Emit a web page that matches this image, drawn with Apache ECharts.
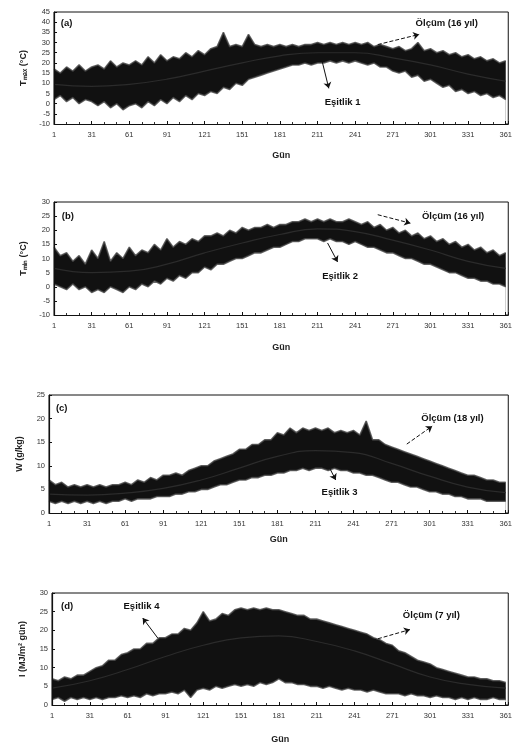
<!DOCTYPE html>
<html>
<head>
<meta charset="utf-8">
<script src="https://cdn.jsdelivr.net/npm/echarts@6/dist/echarts.min.js"></script>
<style>
  html, body { margin: 0; padding: 0; background: #fff; }
  #chart { width: 515px; height: 747px; }
</style>
</head>
<body>
<div id="chart"></div>
<script>
// okuma gunleri (5 gunde bir) ve esitlik egrisi gunleri
const gunler = [1,6,11,16,21,26,31,36,41,46,51,56,61,66,71,76,81,86,91,96,101,106,111,116,121,126,131,136,141,146,151,156,161,166,171,176,181,186,191,196,201,206,211,216,221,226,231,236,241,246,251,256,261,266,271,276,281,286,291,296,301,306,311,316,321,326,331,336,341,346,351,356,361];
const esitGunler = [1,31,61,91,121,151,181,211,241,271,301,331,361];

// (a) Tmax olcum bandi ust/alt siniri ve esitlik 1
const tmaxUst = [17,15,18,16,19,16,18, 19,17,21,18,20,19, 21,19,23,20,24,21, 23,22,25,23,26,24, 27,28,35,28,29,28, 34,29,28,29,28,29, 28,29,28,29,29,30, 29,30,29,30,29,30, 29,30,28,29,28,27, 28,26,27,30,26,27, 25,26,24,25,23,24, 22,23,21,22,20,21];
const tmaxAlt = [2,4,1,3,0,2,1, -1,1,-2,0,-3,-1, 0,-2,1,-1,2,0, 3,1,4,2,5,4, 6,5,8,7,10,9, 12,13,14,15,16,17, 18,19,19,20,19,20, 20,21,20,21,20,21, 20,19,20,18,18,16, 15,16,13,14,11,12, 10,8,9,6,7,5, 6,4,5,3,4,2];
const esitlik1 = [9.5,8.5,9.5,12,16,20,23.5,25,25,22.5,19,14.5,11];

// (b) Tmin
const tminUst = [14,11,12,9,11,8,13, 10,16,9,12,10,14, 11,13,12,15,13,17, 14,16,15,17,16,18, 18,19,18,20,19,21, 20,21,21,22,21,22, 22,23,23,24,23,24, 23,24,23,23,24,23, 22,23,21,22,20,21, 19,20,18,19,17,18, 16,17,15,16,14,15, 13,14,12,13,11,12];
const tminAlt = [1,0,-1,1,-1,0,-2, -1,-2,0,-1,-2,0, -1,1,0,2,1,3, 2,4,3,5,5,7, 6,8,8,9,10,10, 11,12,12,13,14,14, 15,16,16,17,17,17, 16,17,16,16,15,16, 15,14,14,13,12,12, 11,10,10,9,8,8, 7,6,5,5,4,3, 3,2,2,1,1,0];
const esitlik2 = [6.5,5,5.5,8,12,15.5,18.5,20.5,19.5,16.5,13,9,6.5];

// (c) W (g/kg)
const wUst = [7,6,6.5,5.5,6,5.5,6, 5.5,6,5.5,6,6,6.5, 6,7,6.5,7.5,7,8, 8,8.5,8,9,9.5,10, 10,11,11.5,12,12.5,13.5, 13.5,14.5,14.5,15.5,15.5,17, 16.5,18,17,18,17.5,18, 17.5,18,17,17.5,17,17.5, 16.5,19.5,15.5,15.5,14.5,14, 13.5,13,12.5,12,11.5,11, 10.5,10,9.5,9,8.5,8, 8,7.5,7,7,6.5,6.5];
const wAlt = [2.5,2,2.5,2,2.5,2,2.5, 2,2.5,2,2.5,2.5,3, 2.5,3,3,3,3.5,3.5, 3.5,4,4,4.5,4.5,5, 5,5.5,6,6,6.5,7, 7,7.5,7.5,8,8,8.5, 8.5,9,9,9.5,9,9.5, 9.5,9,9.5,9,9,8.5, 8.5,8,8,7.5,7,6.5, 6.5,6,5.5,5.5,5,4.5, 4.5,4,4,3.5,3.5,3, 3,3,2.5,2.5,2.5,2.5];
const esitlik3 = [4,3.8,4.2,5.2,7,9.5,12,13.2,12.8,10.5,7.8,5.5,4.3];

// (d) I (MJ/m2 gun)
const iUst = [7,6.5,7.5,7,8,8,9, 10,10.5,12,12,13.5,14, 15,15,16.5,16.5,18,18, 19,19,20.5,20,22,25, 22.5,23,24.5,24,25.5,26, 25.5,26,25.5,26,25.5,25.5, 25,24.5,24,24,23,23, 22.5,22,21.5,21,20.5,20, 19.5,19,18,17.5,16.5,16, 14.5,14,13,12,11.5,11, 10,9.5,9,8.5,8,7.5, 7.5,7,7,6.5,6.5,6];
const iAlt = [1.5,2,1,2,1.5,2,1.5, 2,1.5,2,2,2.5,2, 2.5,2,3,2.5,3,3, 3.5,3,4,2,4,4.5, 4,5,4.5,5,5.5,5, 5.5,5,6,5.5,6,7, 6,6,5.5,5.5,5,5, 4.5,5,4.5,4,4.5,4, 4,3.5,4,3.5,3,3, 3,2.5,3,2.5,2.5,2, 2.5,2,2,1.5,2,1.5, 2,1.5,1.5,2,1.5,1.5];
const esitlik4 = [4.5,6.5,9.5,13,16,18,18.5,17,14.5,11,7.5,5.5,4.5];

const FONT = "'Liberation Sans', Arial, sans-serif";

const paneller = [
  {
    grid: { left: 54, right: 3, top: 12, height: 112 },
    yMin: -10, yMax: 45, yName: 'Tₘₐₓ (°C)', ust: tmaxUst, alt: tmaxAlt, esit: esitlik1, xGap: 27,
    notlar: [['(a)', 10, 39.5], ['Ölçüm (16 yıl)', 313, 39.5], ['Eşitlik 1', 230, 0.5]],
    oklar: [[258, 29, 291, 34, true], [213, 22.5, 219, 7.5, false]]
  },
  {
    grid: { left: 54, right: 3, top: 202, height: 113 },
    yMin: -10, yMax: 30, yName: 'Tₘᵢₙ (°C)', ust: tminUst, alt: tminAlt, esit: esitlik2, xGap: 28,
    notlar: [['(b)', 11, 25], ['Ölçüm (16 yıl)', 318, 24.8], ['Eşitlik 2', 228, 3.5]],
    oklar: [[258, 25.5, 284, 22.5, true], [218, 15.5, 226, 8.8, false]]
  },
  {
    grid: { left: 49, right: 3, top: 395, height: 118 },
    yMin: 0, yMax: 25, yName: 'W (g/kg)', ust: wUst, alt: wAlt, esit: esitlik3, xGap: 22,
    notlar: [['(c)', 10, 22.2], ['Ölçüm (18 yıl)', 318, 20], ['Eşitlik 3', 229, 4.4]],
    oklar: [[282, 14.6, 302, 18.4, true], [218, 11.2, 226, 7, false]]
  },
  {
    grid: { left: 52, right: 3, top: 593, height: 112 },
    yMin: 0, yMax: 30, yName: 'I (MJ/m² gün)', ust: iUst, alt: iAlt, esit: esitlik4, xGap: 30,
    notlar: [['(d)', 12, 26.5], ['Eşitlik 4', 71, 26.5], ['Ölçüm (7 yıl)', 301, 24]],
    oklar: [[84, 17.9, 72, 23.3, false], [254, 17.3, 284, 20.2, true]]
  }
];

const grid = [], xAxis = [], yAxis = [], series = [];

paneller.forEach((p, k) => {
  grid.push(Object.assign({ show: true, borderColor: '#111', borderWidth: 1 }, p.grid));

  xAxis.push({
    gridIndex: k, type: 'value', min: 0, max: 362, interval: 30, z: 10,
    name: 'Gün', nameLocation: 'middle', nameGap: p.xGap,
    nameTextStyle: { fontFamily: FONT, fontSize: 9, fontWeight: 'bold', color: '#222' },
    axisLine: { show: true, onZero: false, lineStyle: { color: '#111', width: 1.2 } },
    axisTick: { inside: true, length: 3, lineStyle: { color: '#111' } },
    minorTick: { show: true, splitNumber: 3, length: 2, lineStyle: { color: '#333' } },
    splitLine: { show: false },
    axisLabel: {
      fontFamily: FONT, fontSize: 7.5, color: '#333', margin: 7, showMaxLabel: false,
      formatter: v => String(v + 1)
    }
  });

  yAxis.push({
    gridIndex: k, type: 'value', min: p.yMin, max: p.yMax, interval: 5, z: 10,
    name: p.yName, nameLocation: 'middle', nameGap: 25, nameRotate: 90,
    nameTextStyle: { fontFamily: FONT, fontSize: 9, fontWeight: 'bold', color: '#222' },
    axisLine: { show: true, onZero: false, lineStyle: { color: '#111', width: 1.2 } },
    axisTick: { inside: true, length: 3, lineStyle: { color: '#111' } },
    splitLine: { show: false },
    axisLabel: { fontFamily: FONT, fontSize: 7.5, color: '#333', margin: 4 }
  });

  // olcum bandi: ust sinira kadar koyu alan, alt sinirin alti beyazla kapatilir
  series.push({
    type: 'line', xAxisIndex: k, yAxisIndex: k, symbol: 'none', silent: true, z: 2,
    lineStyle: { color: '#444', width: 1.6, opacity: 0.8 },
    areaStyle: { color: '#111', opacity: 1, origin: 'start' },
    data: gunler.map((g, i) => [g - 1, p.ust[i]])
  });
  series.push({
    type: 'line', xAxisIndex: k, yAxisIndex: k, symbol: 'none', silent: true, z: 3,
    lineStyle: { color: '#444', width: 1.6, opacity: 0.8 },
    areaStyle: { color: '#fff', opacity: 1, origin: 'start' },
    data: gunler.map((g, i) => [g - 1, p.alt[i]])
  });

  // esitlik egrisi + notlar
  series.push({
    type: 'line', xAxisIndex: k, yAxisIndex: k, smooth: true, symbol: 'none', silent: true, z: 4,
    lineStyle: { color: '#2b2b2b', width: 1.2 },
    data: esitGunler.map((g, i) => [g - 1, p.esit[i]]),
    markLine: {
      silent: true, symbol: ['none', 'arrow'], symbolSize: 6, label: { show: false },
      data: p.oklar.map(o => [
        { coord: [o[0], o[1]], lineStyle: { color: '#111', width: 1, type: o[4] ? 'dashed' : 'solid' } },
        { coord: [o[2], o[3]] }
      ])
    },
    markPoint: {
      silent: true, symbol: 'circle', symbolSize: 1, itemStyle: { color: 'rgba(0,0,0,0)' },
      data: p.notlar.map(n => ({
        coord: [n[1], n[2]],
        label: {
          show: true, position: 'inside', formatter: n[0],
          fontFamily: FONT, fontSize: 9.5, fontWeight: 'bold', color: '#111'
        }
      }))
    }
  });
});

const chart = echarts.init(document.getElementById('chart'));
chart.setOption({
  animation: false,
  backgroundColor: '#fff',
  grid, xAxis, yAxis, series
});
</script>
</body>
</html>
